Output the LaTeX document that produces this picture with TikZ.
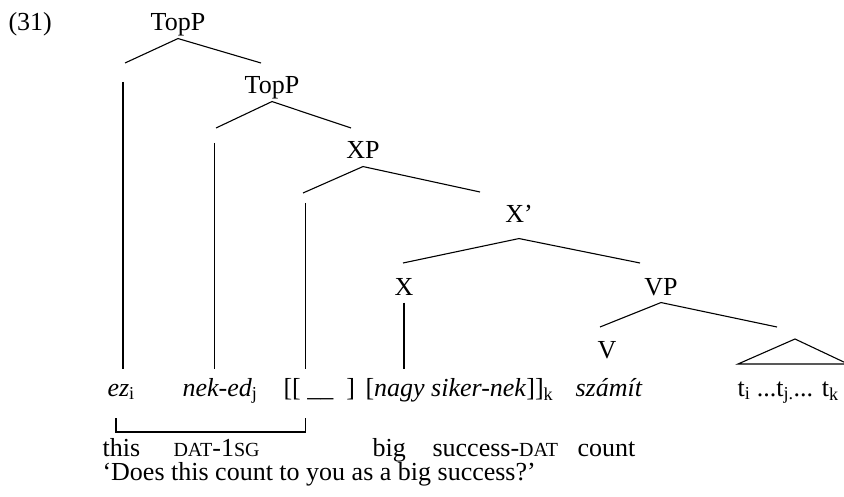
\documentclass[tikz,border=0pt]{standalone}
\usepackage{fontspec}
\setmainfont{Liberation Serif}
\def\smc#1{{\fontsize{20}{22}\selectfont #1}}

\begin{document}
\begin{tikzpicture}[x=1pt, y=-1pt, line width=1.1pt, font=\fontsize{26}{30}\selectfont,
	lab/.style={anchor=base, inner sep=1pt, text depth=6pt},
	wrd/.style={anchor=base west, inner sep=1pt, text height=25pt},
	gl/.style={anchor=base west, inner sep=0pt}]
	\useasboundingbox (0,0) rectangle (844,497);
	\node[gl] (num) at (8,31) {(31)};
	\node[lab] (top1) at (178,31) {TopP};
	\node[lab] (top2) at (272,94) {TopP};
	\node[lab] (xp) at (363,159) {XP};
	\node[lab] (xbar) at (519,223) {X’};
	\node[lab] (x) at (404,295) {X};
	\node[lab] (vp) at (661,295) {VP};
	\node[lab] (v) at (607,358) {V};
	\node[wrd] (ez) at (106,396) {\textit{ez}\textsubscript{i}};
	\node[wrd] (neked) at (181,396) {\textit{nek-ed}\textsubscript{j}};
	\node[wrd] (gap) at (282,396) {[[ \_\_\ \ ]};
	\node[wrd] (nagy) at (364,396) {[\textit{nagy siker-nek}]]\textsubscript{k}};
	\node[wrd] (szamit) at (574,396) {\textit{számít}};
	\node[wrd] (traces) at (736,396) {t\textsubscript{i} ...t\textsubscript{j.}... t\textsubscript{k}};
	\coordinate (ezB) at (125,63);
	\coordinate (top1R) at (261,63);
	\coordinate (nekB) at (216,128);
	\coordinate (top2R) at (351,128);
	\coordinate (gapB) at (303,193);
	\coordinate (xpR) at (480,192);
	\coordinate (xbarL) at (403,263);
	\coordinate (xbarR) at (640,263);
	\coordinate (vpL) at (600,327);
	\coordinate (vpR) at (777,327);
	\coordinate (ezT) at (123,82);
	\coordinate (nekT) at (214.5,143);
	\coordinate (gapT) at (305.5,203);
	\coordinate (tri) at (795,339);
	\coordinate (brL) at (116,418);
	\coordinate (brR) at (305.5,418);
	\draw (ezB) -- (top1.south) -- (top1R);
	\draw (nekB) -- (top2.south) -- (top2R);
	\draw (gapB) -- (xp.south) -- (xpR);
	\draw (xbarL) -- ([yshift=-8pt]xbar.south) -- (xbarR);
	\draw (vpL) -- (vp.south) -- (vpR);
	\draw (ezT) -- (ezT |- ez.north);
	\draw (nekT) -- (nekT |- neked.north);
	\draw (gapT) -- (gapT |- gap.north);
	\draw (x.south) -- (x.south |- nagy.north);
	\draw (tri) -- ++(-57,25) -- ++(110,0) -- cycle;
	\draw[line width=1.6pt] (brL) -- ++(0,14) -| (brR);
	\node[gl] (g1) at (102,456) {this};
	\node[gl] (g2) at (173,456) {\smc{DAT}-1\smc{SG}};
	\node[gl] (g3) at (372,456) {big};
	\node[gl] (g4) at (432,456) {success-\smc{DAT}};
	\node[gl] (g5) at (577,456) {count};
	\node[gl] (trans) at (102,480) {‘Does this count to you as a big success?’};
\end{tikzpicture}
\end{document}
